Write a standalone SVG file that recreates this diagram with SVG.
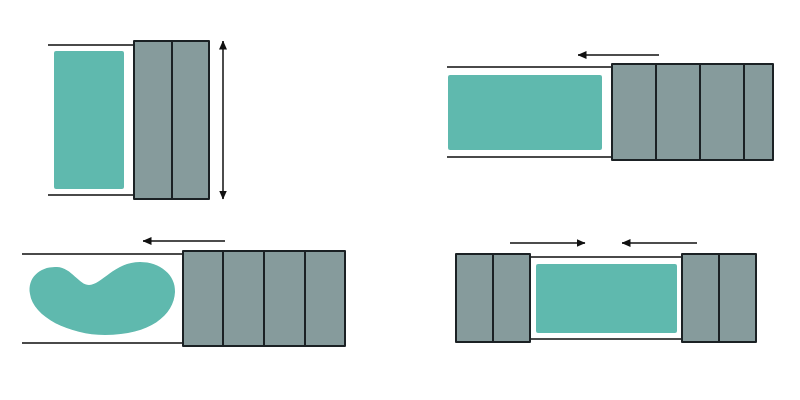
<svg xmlns="http://www.w3.org/2000/svg" width="800" height="400" viewBox="0 0 800 400">
<style>
.blk{fill:#869b9c;stroke:#1b2124;stroke-width:2;stroke-linejoin:round}
.div{stroke:#1b2124;stroke-width:2}
.wall{stroke:#4a4a4a;stroke-width:2}
.obj{fill:#5fb9ae}
.arr{stroke:#111;stroke-width:1.5;fill:none}
</style>
<defs>
<marker id="ah" viewBox="0 0 9 8" refX="8.5" refY="4" markerWidth="9" markerHeight="8" orient="auto-start-reverse" markerUnits="userSpaceOnUse">
<path d="M0,0 L9,4 L0,8 Z" fill="#111"/>
</marker>
</defs>
<rect width="800" height="400" fill="#fff"/>
<g id="panel1">
<line class="wall" x1="48" y1="45" x2="135" y2="45"/>
<line class="wall" x1="48" y1="195" x2="135" y2="195"/>
<rect class="obj" x="54" y="51" width="70" height="138" rx="2"/>
<rect class="blk" x="134" y="41" width="75" height="158"/>
<line class="div" x1="172" y1="41" x2="172" y2="199"/>
</g>
<g id="panel2">
<line class="wall" x1="447" y1="67" x2="612" y2="67"/>
<line class="wall" x1="447" y1="157" x2="612" y2="157"/>
<rect class="obj" x="448" y="75" width="154" height="75" rx="2"/>
<rect class="blk" x="612" y="64" width="161" height="96"/>
<line class="div" x1="656" y1="64" x2="656" y2="160"/>
<line class="div" x1="700" y1="64" x2="700" y2="160"/>
<line class="div" x1="744" y1="64" x2="744" y2="160"/>
</g>
<g id="panel3">
<line class="wall" x1="22" y1="254" x2="183" y2="254"/>
<line class="wall" x1="22" y1="343" x2="183" y2="343"/>
<path class="obj" d="M30,294 C27,277 41,266 57,267 C72,268 79,285 89,285 C101,285 115,262 140,262 C160,262 176,275 175,292 C174,315 150,335 105,335 C70,335 33,317 30,294 Z"/>
<rect class="blk" x="183" y="251" width="162" height="95"/>
<line class="div" x1="223" y1="251" x2="223" y2="346"/>
<line class="div" x1="264" y1="251" x2="264" y2="346"/>
<line class="div" x1="305" y1="251" x2="305" y2="346"/>
</g>
<g id="panel4">
<line class="wall" x1="530" y1="257" x2="682" y2="257"/>
<line class="wall" x1="530" y1="339" x2="682" y2="339"/>
<rect class="obj" x="536" y="264" width="141" height="69" rx="2"/>
<rect class="blk" x="456" y="254" width="74" height="88"/>
<line class="div" x1="493" y1="254" x2="493" y2="342"/>
<rect class="blk" x="682" y="254" width="74" height="88"/>
<line class="div" x1="719" y1="254" x2="719" y2="342"/>
</g>
<g id="connectors">
<line class="arr" x1="223" y1="41" x2="223" y2="199" marker-start="url(#ah)" marker-end="url(#ah)"/>
<line class="arr" x1="659" y1="55" x2="578" y2="55" marker-end="url(#ah)"/>
<line class="arr" x1="225" y1="241" x2="143" y2="241" marker-end="url(#ah)"/>
<line class="arr" x1="510" y1="243" x2="585" y2="243" marker-end="url(#ah)"/>
<line class="arr" x1="697" y1="243" x2="622" y2="243" marker-end="url(#ah)"/>
</g>
</svg>
